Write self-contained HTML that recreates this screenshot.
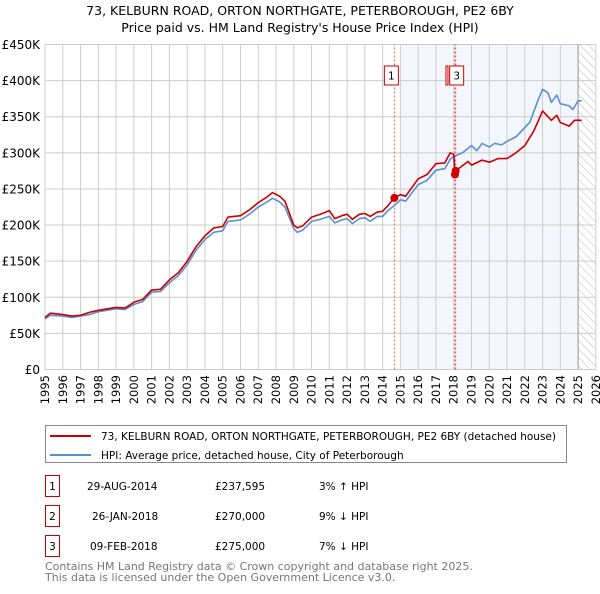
<!DOCTYPE html>
<html><head><meta charset="utf-8"><style>
body{margin:0;background:#fff;width:600px;height:590px;overflow:hidden;font-family:"DejaVu Sans","Liberation Sans",sans-serif;}
svg text{font-family:"DejaVu Sans","Liberation Sans",sans-serif;}
</style></head><body>
<svg id="chart" width="600" height="590" xmlns="http://www.w3.org/2000/svg">
<text x="300" y="15" text-anchor="middle" font-size="12.5" fill="#000">73, KELBURN ROAD, ORTON NORTHGATE, PETERBOROUGH, PE2 6BY</text>
<text x="300" y="32" text-anchor="middle" font-size="12.5" fill="#000">Price paid vs. HM Land Registry's House Price Index (HPI)</text>
<g id="plot"></g>
<g>
<rect x="45.5" y="425.5" width="521" height="37" fill="#fff" stroke="#888"/>
<line x1="50" y1="436" x2="91" y2="436" stroke="#cc0000" stroke-width="2"/>
<text x="101" y="440" font-size="10.5">73, KELBURN ROAD, ORTON NORTHGATE, PETERBOROUGH, PE2 6BY (detached house)</text>
<line x1="50" y1="455" x2="91" y2="455" stroke="#5b8fd4" stroke-width="2"/>
<text x="101" y="459" font-size="10.5">HPI: Average price, detached house, City of Peterborough</text>
</g>
<g font-size="10.5">
<rect x="45.5" y="475.5" width="14" height="21" fill="#fff" stroke="#cc0000"/><text x="52.5" y="490" text-anchor="middle">1</text>
<text x="87" y="490">29-AUG-2014</text><text x="215" y="490">£237,595</text><text x="319" y="490">3% ↑ HPI</text>
<rect x="45.5" y="505.5" width="14" height="21" fill="#fff" stroke="#cc0000"/><text x="52.5" y="520" text-anchor="middle">2</text>
<text x="92" y="520">26-JAN-2018</text><text x="215" y="520">£270,000</text><text x="319" y="520">9% ↓ HPI</text>
<rect x="45.5" y="535.5" width="14" height="21" fill="#fff" stroke="#cc0000"/><text x="52.5" y="550" text-anchor="middle">3</text>
<text x="90" y="550">09-FEB-2018</text><text x="215" y="550">£275,000</text><text x="319" y="550">7% ↓ HPI</text>
</g>
<text x="45" y="570" font-size="11" fill="#777">Contains HM Land Registry data © Crown copyright and database right 2025.</text>
<text x="45" y="581" font-size="11" fill="#777">This data is licensed under the Open Government Licence v3.0.</text>
</svg>
<script>
const hpiYears=[1995,1995.3,1996,1996.5,1997,1997.5,1998,1999,1999.5,2000,2000.5,2001,2001.5,2002,2002.5,2003,2003.5,2004,2004.5,2005,2005.3,2006,2006.5,2007,2007.5,2007.8,2008.2,2008.5,2009,2009.2,2009.5,2010,2010.5,2011,2011.3,2011.7,2012,2012.3,2012.7,2013,2013.3,2013.7,2014,2014.3,2014.7,2015,2015.3,2015.5,2016,2016.5,2017,2017.5,2017.8,2018,2018.5,2019,2019.3,2019.6,2020,2020.3,2020.7,2021,2021.5,2022,2022.3,2022.7,2023,2023.3,2023.5,2023.8,2024,2024.5,2024.7,2025,2025.2];
const hpiValues=[70,75,74,72,74,76,80,84,83,90,94,107,108,120,130,145,165,180,190,192,205,207,215,225,232,237,232,225,195,190,193,205,208,212,203,207,209,202,209,210,205,212,212,220,228,235,233,240,256,262,276,278,291,295,300,310,303,313,308,313,311,316,322,335,343,370,388,383,370,380,368,365,360,372,372];
const priceYears=[1995,1995.3,1996,1996.5,1997,1997.5,1998,1999,1999.5,2000,2000.5,2001,2001.5,2002,2002.5,2003,2003.5,2004,2004.5,2005,2005.3,2006,2006.5,2007,2007.5,2007.8,2008.2,2008.5,2009,2009.2,2009.5,2010,2010.5,2011,2011.3,2011.7,2012,2012.3,2012.7,2013,2013.3,2013.7,2014,2014.3,2014.66,2015,2015.3,2015.5,2016,2016.5,2017,2017.5,2017.8,2018.0,2018.07,2018.11,2018.8,2019,2019.6,2020,2020.5,2021,2021.5,2022,2022.5,2023,2023.5,2023.8,2024,2024.5,2024.8,2025.2];
const priceValues=[72,78,76,74,75,79,82,86,85,93,97,110,111,124,134,150,170,185,196,198,211,213,221,231,239,245,240,233,200,196,199,211,215,220,209,213,215,208,215,216,212,218,219,227,237.6,242,240,247,264,270,285,286,300,298,270,275,288,283,290,287,292,292,300,310,330,358,345,352,342,337,345,345];
const saleLabels=["1","2","3"];
const saleYears=[2014.66,2018.07,2018.11];
const saleValues=[237.595,270,275];
const yTicks=[0,50,100,150,200,250,300,350,400,450];
const yTickLabels=["£0","£50K","£100K","£150K","£200K","£250K","£300K","£350K","£400K","£450K"];
const xStart=1995,xEnd=2026;

const NS="http://www.w3.org/2000/svg";
const X0=45,PPY=17.77,Y0=369.5,PPK=325/450;
const sx=y=>X0+(y-xStart)*PPY;
const sy=v=>Y0-v*PPK;
const g=document.getElementById('plot');
function mk(t,a){const e=document.createElementNS(NS,t);for(const k in a)e.setAttribute(k,a[k]);g.appendChild(e);return e;}
let e;
e=mk('rect',{x:sx(2015),y:sy(450),width:sx(2025)-sx(2015),height:sy(0)-sy(450),fill:'#eef3fc',opacity:0.7});


const defs=document.createElementNS(NS,'defs');
defs.innerHTML='<pattern id="hatch" width="6" height="6" patternUnits="userSpaceOnUse" patternTransform="rotate(-45)"><line x1="0" y1="0" x2="0" y2="6" stroke="#bbb" stroke-width="1"/></pattern>';
g.appendChild(defs);
e=mk('rect',{x:sx(2025),y:sy(450),width:sx(2026)-sx(2025),height:sy(0)-sy(450),fill:'url(#hatch)'});


for(let yr=xStart;yr<=xEnd;yr++){
  e=mk('line',{x1:sx(yr),x2:sx(yr),y1:sy(0),y2:sy(450),stroke:'#ccc','stroke-width':1});
  
  
  const x=sx(yr);
  e=mk('text',{x:x+4,y:375,'text-anchor':'end','font-size':'11.5',transform:`rotate(-90 ${x+4} 375)`});
  e.textContent=String(yr);
  
  
}
yTicks.forEach((v,i)=>{
  e=mk('line',{x1:sx(xStart),x2:sx(xEnd),y1:sy(v),y2:sy(v),stroke:'#ccc','stroke-width':1});
  
  
  e=mk('text',{x:40,y:sy(v)+4.5,'text-anchor':'end','font-size':'12'});
  e.textContent=yTickLabels[i];
  
  
});
e=mk('line',{x1:sx(2025),x2:sx(2025),y1:sy(0),y2:sy(450),stroke:'#999','stroke-width':1});


saleYears.forEach((yr,i)=>{
  e=mk('line',{x1:sx(yr),x2:sx(yr),y1:sy(0),y2:sy(450),stroke:'#e55','stroke-width':1,'stroke-dasharray':'2,2'});
  
  
});
function path(xs,vs,col,name){
  const d=xs.map((x,i)=>(i?'L':'M')+sx(x).toFixed(1)+','+sy(vs[i]).toFixed(1)).join('');
  const p=mk('path',{d:d,fill:'none',stroke:col,'stroke-width':1.6,'stroke-linejoin':'round'});
  
  
}
path(hpiYears,hpiValues,'#5b8fd4','hpi-line');
path(priceYears,priceValues,'#cc0000','price-paid-line');
saleYears.forEach((yr,i)=>{
  e=mk('circle',{cx:sx(yr),cy:sy(saleValues[i]),r:4,fill:'#cc0000'});
  
  
});
[0,1,2].forEach(i=>{
  if(i===1){return;}
  const bx=sx(saleYears[i])-(i===0?10:6);
  e=mk('rect',{x:bx,y:66,width:14,height:19,fill:'#fff',stroke:'#cc0000'});
  
  
  e=mk('text',{x:bx+7,y:79.5,'text-anchor':'middle','font-size':'10.5'});
  e.textContent=saleLabels[i];
  
  
});
e=mk('rect',{x:sx(saleYears[1])-9,y:66,width:2,height:19,fill:'#fff',stroke:'#cc0000'});


</script>
</body></html>
